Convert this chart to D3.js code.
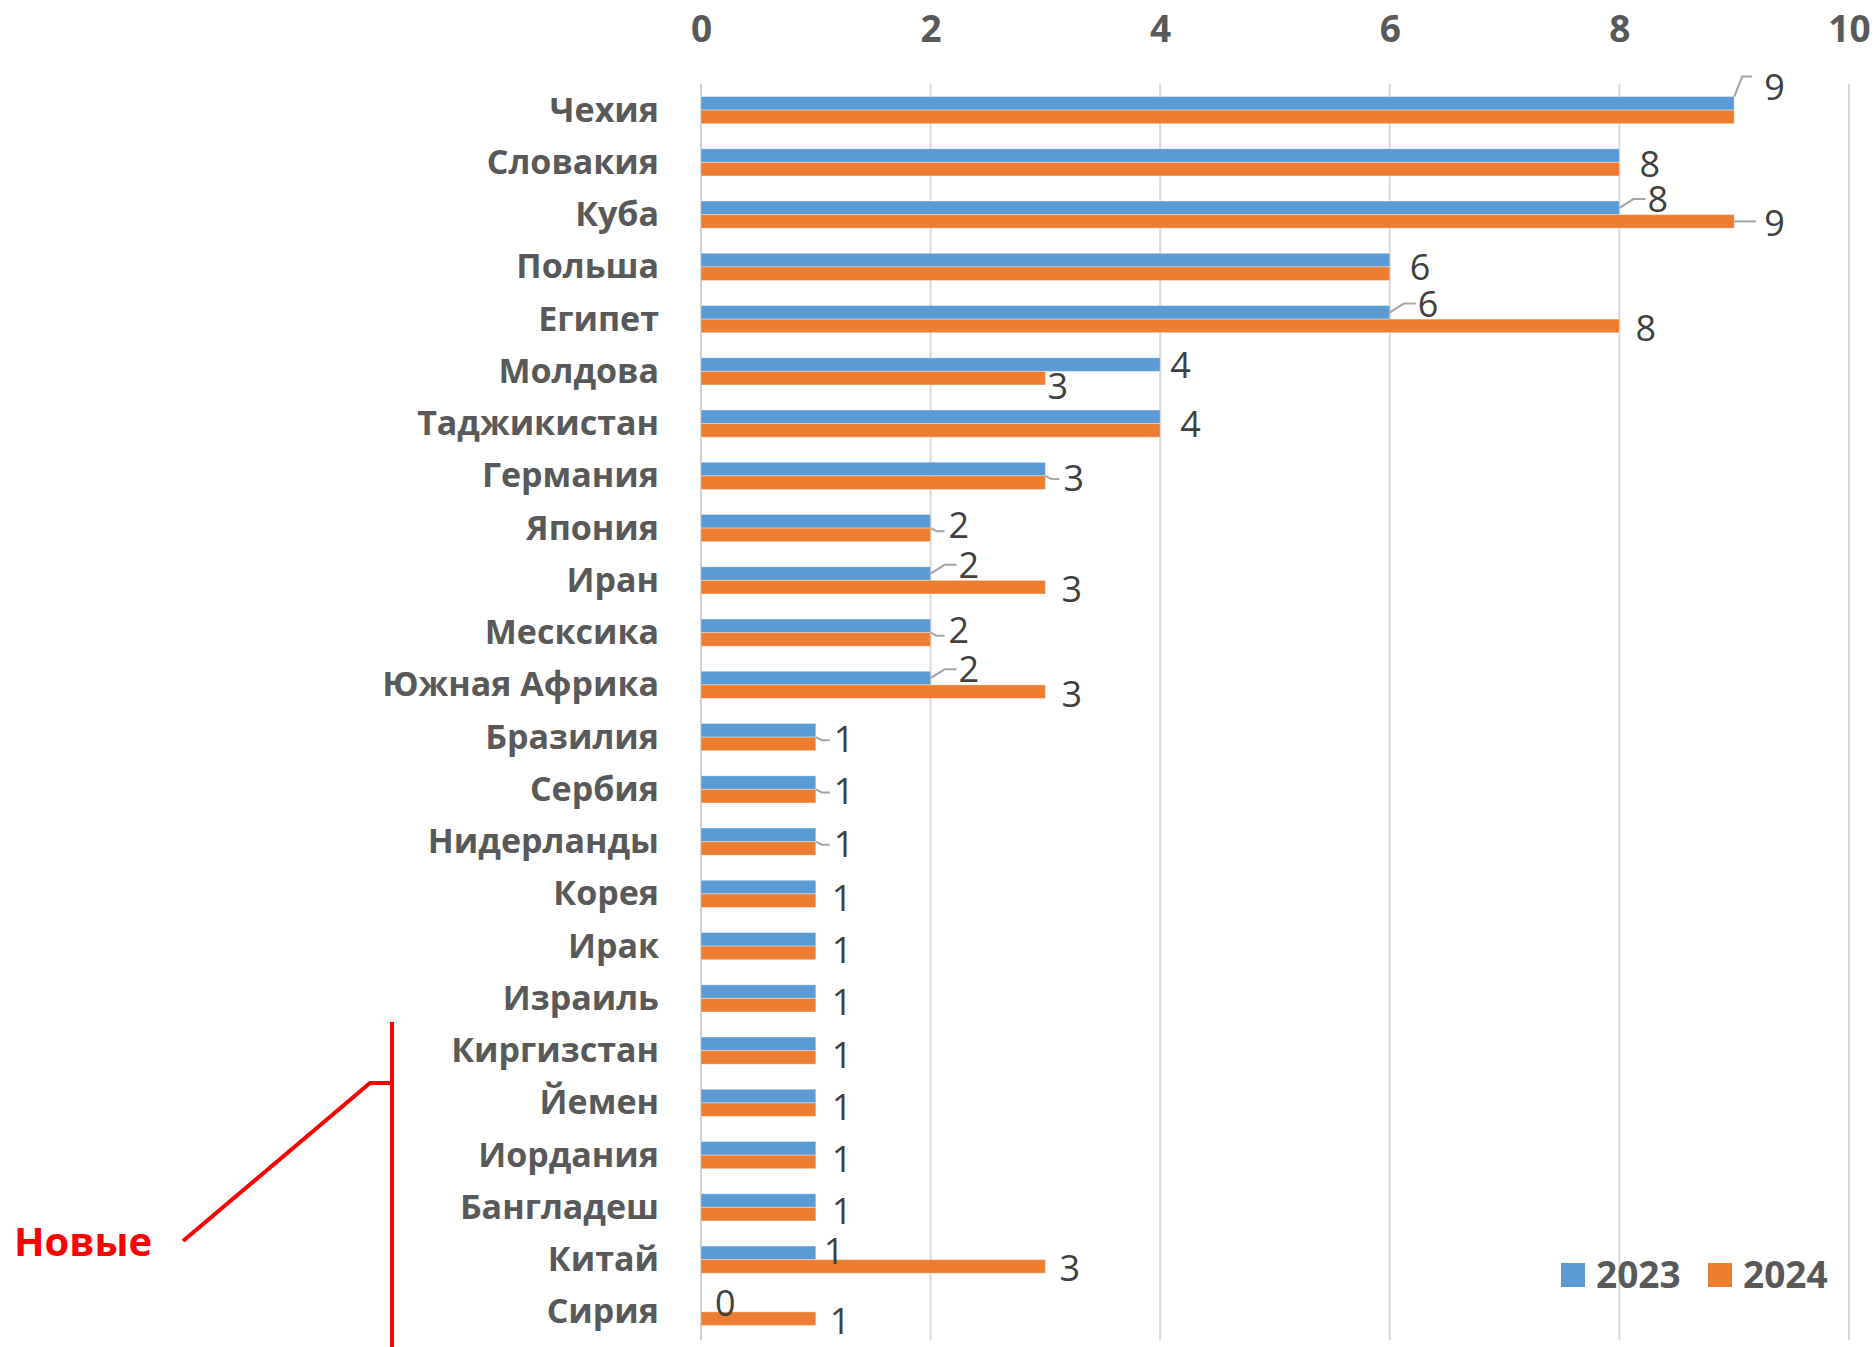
<!DOCTYPE html>
<html><head><meta charset="utf-8">
<script src="https://cdn.jsdelivr.net/npm/d3@7"></script>
<style>body{margin:0;background:#fff}</style>
</head><body>
<svg id="chart" width="1875" height="1347"></svg>
<script>
const categories = ["Чехия","Словакия","Куба","Польша","Египет","Молдова","Таджикистан","Германия","Япония","Иран","Мескcика","Южная Африка","Бразилия","Сербия","Нидерланды","Корея","Ирак","Израиль","Киргизстан","Йемен","Иордания","Бангладеш","Китай","Сирия"];
const values2023 = [9,8,8,6,6,4,4,3,2,2,2,2,1,1,1,1,1,1,1,1,1,1,1,0];
const values2024 = [9,8,9,6,8,3,4,3,2,3,2,3,1,1,1,1,1,1,1,1,1,1,3,1];
const seriesNames = ["2023","2024"];
const xTicks = [0,2,4,6,8,10];
const annotationText = "Новые";

const colors = ["#5b9bd5","#ed7d31"];
const svg = d3.select("#chart");
const x = d3.scaleLinear().domain([0,10]).range([701,1849]);
const y = d3.scaleBand().domain(categories).range([84,1338]).paddingInner(0.48).paddingOuter(0.24);
const bh = y.bandwidth()/2;

// gridlines
svg.append("g").selectAll("line").data(xTicks).join("line")
  .attr("x1",d=>x(d)).attr("x2",d=>x(d)).attr("y1",84).attr("y2",1340)
  .attr("stroke",d=>d===0?"#d0d0d0":"#d9d9d9").attr("stroke-width",2);

// top axis labels
const ax = svg.append("g").attr("transform","translate(0,42)")
  .call(d3.axisTop(x).tickValues(xTicks).tickSize(0).tickPadding(0).tickFormat(d3.format("d")));
ax.select(".domain").remove();
ax.selectAll("text").attr("font-family","'Open Sans'").attr("font-weight","bold")
  .attr("font-size",37).attr("fill","#595959").attr("dy",0);

// category labels
const ay = svg.append("g").attr("transform","translate(659,0)")
  .call(d3.axisLeft(y).tickSize(0).tickPadding(0));
ay.select(".domain").remove();
ay.selectAll("text").attr("font-family","'Open Sans'").attr("font-weight","bold")
  .attr("font-size",34).attr("fill","#595959").attr("dy","0.34em");

const rows = categories.map((c,i)=>({c, v:[values2023[i],values2024[i]]}));
const bars = svg.append("g");
rows.forEach(r=>{
  r.v.forEach((v,k)=>{
    bars.append("rect").attr("x",x(0)).attr("y",y(r.c)+k*bh)
      .attr("width",x(v)-x(0)).attr("height",bh).attr("fill",colors[k])
      .attr("stroke", "#ffffff").attr("stroke-opacity",0.35).attr("stroke-width",1);
  });
});

// data labels
const lab = svg.append("g").attr("font-family","'Open Sans'").attr("font-size",36).attr("fill","#404040");
const lead = svg.append("g").attr("stroke","#a6a6a6").attr("stroke-width",2).attr("fill","none");
rows.forEach((r,i)=>{
  const top = y(r.c), mid = top+bh;
  const [a,b] = r.v;
  if (a===b){
    let ly = mid, lx = x(a)+20;
    if (i===0){ ly = top-10; lx = x(a)+30;
      lead.append("path").attr("d",`M${x(a)},${top} L${x(a)+8},${ly-10} L${x(a)+18},${ly-10}`);
    } else if (a<=3 && i<15) {
      lead.append("path").attr("d",`M${x(a)},${mid} L${x(a)+6},${mid+3} L${x(a)+14},${mid+3}`);
      lx = x(a)+18; ly = a===2 ? mid-3 : mid+2;
    } else if (a===1) {
      lx = x(a)+16; ly = mid+4;
    } else if (i===1) {
      ly = mid+2;
    }
    lab.append("text").attr("x",lx).attr("y",ly).attr("dy","0.36em").text(a);
  } else if (a<b){
    if (a>1){
      const ly = top-2;
      lead.append("path").attr("d",`M${x(a)},${top+bh/2} L${x(a)+14},${ly} L${x(a)+26},${ly}`);
      lab.append("text").attr("x",x(a)+28).attr("y",ly).attr("dy","0.36em").text(a);
      lead.append("path").attr("d",`M${x(b)},${top+bh*1.5} L${x(b)+22},${top+bh*1.5}`).attr("stroke-opacity", b===9?1:0);
      lab.append("text").attr("x",x(b)+ (b===9?30:16)).attr("y",top+bh*1.5+2).attr("dy","0.36em").text(b);
    } else {
      lab.append("text").attr("x",x(a)+(a===0?14:8)).attr("y",top+bh*0.5-2).attr("dy","0.36em").text(a);
      lab.append("text").attr("x",x(b)+14).attr("y",top+bh*1.5+2).attr("dy","0.36em").text(b);
    }
  } else {
    lab.append("text").attr("x",x(a)+10).attr("y",top+bh*0.5).attr("dy","0.36em").text(a);
    lab.append("text").attr("x",x(b)+2).attr("y",top+bh*1.5+8).attr("dy","0.36em").text(b);
  }
});

// legend
const lg = svg.append("g");
seriesNames.forEach((s,k)=>{
  const lx = 1561 + k*147;
  lg.append("rect").attr("x",lx).attr("y",1263).attr("width",24).attr("height",24).attr("fill",colors[k]);
  lg.append("text").attr("x",lx+35).attr("y",1275).attr("dy","0.36em")
    .attr("font-family","'Open Sans'").attr("font-weight","bold").attr("font-size",37)
    .attr("fill","#595959").text(s);
});

// annotation
const an = svg.append("g").attr("stroke","#ff0000").attr("stroke-width",4).attr("fill","none");
an.append("line").attr("x1",392).attr("x2",392).attr("y1",1022).attr("y2",1347);
an.append("path").attr("d","M392,1083 L370,1083 L183,1241");
svg.append("text").attr("x",14).attr("y",1242).attr("dy","0.36em")
  .attr("font-family","'Open Sans'").attr("font-weight","bold").attr("font-size",40)
  .attr("fill","#ff0000").text(annotationText);
</script>
</body></html>
